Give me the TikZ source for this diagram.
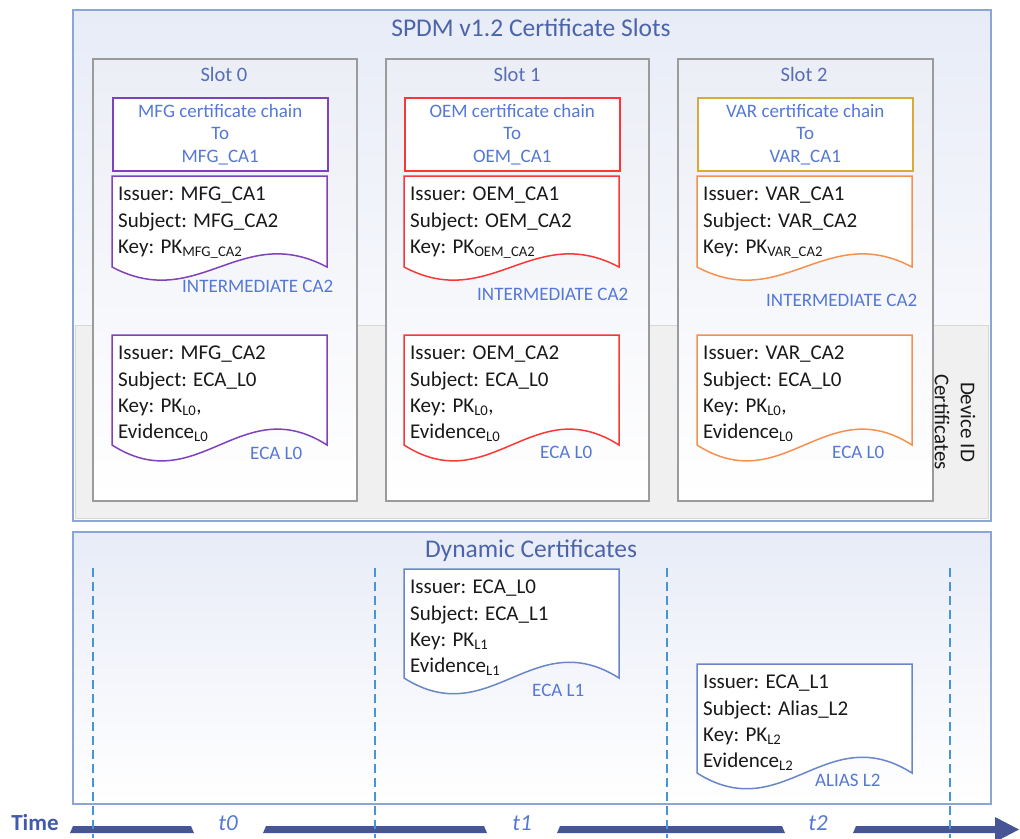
\documentclass[tikz,border=0pt]{standalone}
\usepackage{fontspec}
\setmainfont{Carlito}

\definecolor{boxblue}{RGB}{140,165,215}
\definecolor{boxtop}{RGB}{232,236,247}
\definecolor{slotgray}{RGB}{155,155,155}
\definecolor{slottop}{RGB}{236,238,246}
\definecolor{bandgray}{RGB}{240,240,240}
\definecolor{bandline}{RGB}{215,215,215}
\definecolor{tblue}{RGB}{75,100,170}
\definecolor{sblue}{RGB}{85,110,180}
\definecolor{lblue}{RGB}{85,120,215}
\definecolor{txtdark}{RGB}{25,25,25}
\definecolor{docpurple}{RGB}{128,65,188}
\definecolor{docred}{RGB}{250,55,55}
\definecolor{chaingold}{RGB}{215,170,60}
\definecolor{docorange}{RGB}{245,145,80}
\definecolor{docblue}{RGB}{105,135,200}
\definecolor{dashblue}{RGB}{70,150,215}
\definecolor{barblue}{RGB}{70,85,150}
\definecolor{timeblue}{RGB}{65,90,170}

% certificate page with a wavy bottom: name, x, y, colour, height, text
\newcommand{\certdoc}[6]{%
  \draw[#4, line width=1.5pt, fill=white] (#2,#3+#5) -- (#2,#3) -- (#2+215,#3) -- (#2+215,#3+#5)
    .. controls (#2+129,#3+0.5*#5) and (#2+86,#3+1.5*#5) .. (#2,#3+#5) -- cycle;
  \node[doctext] (#1) at (#2+6,#3+11) {#6};
}

\begin{document}
\begin{tikzpicture}[x=1pt, y=-1pt,
    outerbox/.style={draw=boxblue, line width=1.8pt, top color=boxtop, bottom color=white, minimum width=918pt, anchor=north west},
    slotbox/.style={draw=slotgray, line width=1.5pt, top color=slottop, bottom color=white, minimum height=442pt, anchor=north west},
    chainbox/.style={draw=#1, line width=1.5pt, fill=white, minimum width=215pt, minimum height=73pt, anchor=north west, align=center, text=lblue, font=\fontsize{19}{22.5}\selectfont},
    boxtitle/.style={text=tblue, font=\fontsize{25.5}{30}\selectfont},
    slotlabel/.style={text=sblue, font=\fontsize{20.5}{24}\selectfont},
    doclabel/.style={anchor=west, text=lblue, font=\fontsize{19}{22}\selectfont, inner sep=0},
    doctext/.style={anchor=north west, align=left, inner sep=0, text=txtdark, font=\fontsize{21}{26.3}\selectfont},
    timeline/.style={dashblue, line width=1.3pt, dash pattern=on 9pt off 5pt},
    tlabel/.style={text=lblue, font=\fontsize{23}{27}\selectfont\itshape}]
  \useasboundingbox (0,0) rectangle (1020,838);

  % certificate slots
  \node[outerbox, minimum height=511pt] (slots) at (72,9) {};
  \node[fill=bandgray, draw=bandline, line width=1pt, minimum width=913pt, minimum height=193pt, anchor=north west] (devband) at (75,325) {};
  \node[boxtitle] (slotstitle) at (531,28) {SPDM v1.2 Certificate Slots};
  \node[rotate=-90, align=center, text=txtdark, font=\fontsize{21}{26}\selectfont] (devidlabel) at (955,422) {Device ID\\Certificates};

  \node[slotbox, minimum width=264pt] (slot0) at (92,58) {};
  \node[slotlabel] (slot0label) at (224,74) {Slot 0};
  \node[chainbox=docpurple] (chain0) at (112,97) {MFG certificate chain\\To\\MFG\_CA1};
  \certdoc{int0}{112}{176}{docpurple}{91}{Issuer: MFG\_CA1\\Subject: MFG\_CA2\\Key: PK\textsubscript{MFG\_CA2}}
  \node[doclabel] (int0label) at (182,286) {INTERMEDIATE CA2};
  \certdoc{eca0}{112}{335}{docpurple}{110}{Issuer: MFG\_CA2\\Subject: ECA\_L0\\Key: PK\textsubscript{L0},\\Evidence\textsubscript{L0}}
  \node[doclabel] (eca0label) at (250,453) {ECA L0};

  \node[slotbox, minimum width=263pt] (slot1) at (385,58) {};
  \node[slotlabel] (slot1label) at (517,74) {Slot 1};
  \node[chainbox=docred] (chain1) at (404,97) {OEM certificate chain\\To\\OEM\_CA1};
  \certdoc{int1}{404}{176}{docred}{91}{Issuer: OEM\_CA1\\Subject: OEM\_CA2\\Key: PK\textsubscript{OEM\_CA2}}
  \node[doclabel] (int1label) at (477,294) {INTERMEDIATE CA2};
  \certdoc{eca1}{404}{335}{docred}{110}{Issuer: OEM\_CA2\\Subject: ECA\_L0\\Key: PK\textsubscript{L0},\\Evidence\textsubscript{L0}}
  \node[doclabel] (eca1label) at (540,452) {ECA L0};

  \node[slotbox, minimum width=255pt] (slot2) at (677,58) {};
  \node[slotlabel] (slot2label) at (804,74) {Slot 2};
  \node[chainbox=chaingold] (chain2) at (697,97) {VAR certificate chain\\To\\VAR\_CA1};
  \certdoc{int2}{697}{176}{docorange}{91}{Issuer: VAR\_CA1\\Subject: VAR\_CA2\\Key: PK\textsubscript{VAR\_CA2}}
  \node[doclabel] (int2label) at (766,300) {INTERMEDIATE CA2};
  \certdoc{eca2}{697}{335}{docorange}{110}{Issuer: VAR\_CA2\\Subject: ECA\_L0\\Key: PK\textsubscript{L0},\\Evidence\textsubscript{L0}}
  \node[doclabel] (eca2label) at (832,452) {ECA L0};

  % dynamic certificates
  \node[outerbox, minimum height=272pt] (dynamic) at (72,531) {};
  \node[boxtitle] (dyntitle) at (531,551) {Dynamic Certificates};
  \certdoc{ecal1}{404}{569}{docblue}{109}{Issuer: ECA\_L0\\Subject: ECA\_L1\\Key: PK\textsubscript{L1}\\Evidence\textsubscript{L1}}
  \node[doclabel] (ecal1label) at (532,690) {ECA L1};
  \certdoc{alias2}{697}{664}{docblue}{109}{Issuer: ECA\_L1\\Subject: Alias\_L2\\Key: PK\textsubscript{L2}\\Evidence\textsubscript{L2}}
  \node[doclabel] (alias2label) at (815,780) {ALIAS L2};

  % time axis
  \node[text=timeblue, font=\fontsize{23}{27}\selectfont\bfseries] (time) at (35,823) {Time};
  \fill[barblue] (70,833) -- (73,826) -- (191,826) -- (194,833) -- cycle;
  \fill[barblue] (263,833) -- (266,826) -- (484,826) -- (487,833) -- cycle;
  \fill[barblue] (557,833) -- (560,826) -- (782,826) -- (785,833) -- cycle;
  \fill[barblue] (853,833) -- (856,826) -- (995,826) -- (995,817) -- (1019,829.5) -- (995,842) -- (995,833) -- cycle;
  \node[tlabel] (t0) at (228,823) {t0};
  \node[tlabel] (t1) at (522,823) {t1};
  \node[tlabel] (t2) at (818,823) {t2};
  \draw[timeline] (93,568) -- (93,838);
  \draw[timeline] (375,568) -- (375,838);
  \draw[timeline] (667,568) -- (667,838);
  \draw[timeline] (950,568) -- (950,838);
\end{tikzpicture}
\end{document}
